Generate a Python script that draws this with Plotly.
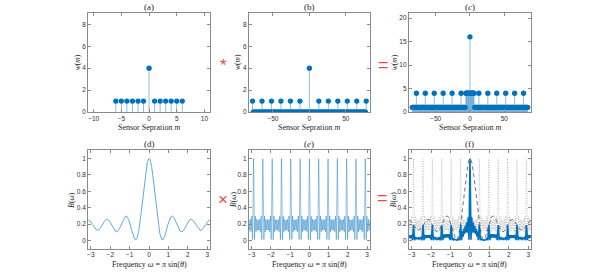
import numpy as np
import plotly.graph_objects as go

# ---------------- data ----------------
# (a) sensor-separation weights of the small array
m_a = list(range(-6, 7))
w_a = [1, 1, 1, 1, 1, 1, 4, 1, 1, 1, 1, 1, 1]
# (b) same weights placed every 13 sensors (zeros in between)
spacing_b = 13
m_b = list(range(-78, 79))
w_b = [w_a[m // spacing_b + 6] if m % spacing_b == 0 else 0 for m in m_b]
# (c) result of (a) * (b)
m_c = list(range(-84, 85))
w_c = [int(v) for v in np.convolve(w_a, w_b)]

x_ticks_a = [-10, -5, 0, 5, 10]
x_ticks_bc = [-50, 0, 50]
y_ticks_ab = [0, 2, 4, 6, 8]
y_ticks_c = [0, 5, 10, 15, 20]
x_ticks_freq = [-3, -2, -1, 0, 1, 2, 3]
y_ticks_freq = [0, 0.2, 0.4, 0.6, 0.8, 1]
y_ticklabels_freq = ["0", "0.2", "0.4", "0.6", "0.8", "1"]

omega = np.linspace(-np.pi, np.pi, 1201)


def beampattern(m, w):
    m = np.asarray(m, float)
    w = np.asarray(w, float)
    s = np.exp(-1j * np.outer(omega, m)) @ w
    return np.abs(s) / w.sum()


B_a = beampattern(m_a, w_a)
B_b = beampattern(m_b, w_b)
B_c = beampattern(m_c, w_c)

# ---------------- figure ----------------
W, H = 598, 275
BLUE = "#0072BD"
STEM = "rgba(0,114,189,0.45)"
AXC = "#8a8a8a"
TXT = "#303030"
SERIF = "Liberation Serif"
SANS = "Liberation Sans"

xdoms = [(87.3 / W, 209.3 / W), (248.3 / W, 369.5 / W), (408.5 / W, 531 / W)]
ydoms = [(1 - 113.3 / H, 1 - 13.5 / H), (1 - 251.3 / H, 1 - 152 / H)]

fig = go.Figure()


def stem_traces(m, w, ax):
    xs, ys = [], []
    for mm, ww in zip(m, w):
        if ww != 0:
            xs += [mm, mm, None]
            ys += [0, ww, None]
    fig.add_trace(go.Scatter(x=xs, y=ys, mode="lines", line=dict(color=STEM, width=1),
                             xaxis="x" + ax, yaxis="y" + ax, showlegend=False, hoverinfo="skip"))
    fig.add_trace(go.Scatter(x=m, y=w, mode="markers",
                             marker=dict(color=BLUE, size=5.3, line=dict(width=0)),
                             xaxis="x" + ax, yaxis="y" + ax, showlegend=False))


stem_traces(m_a, w_a, "")
stem_traces(m_b, w_b, "2")
stem_traces(m_c, w_c, "3")

fig.add_trace(go.Scatter(x=omega, y=B_a, mode="lines", line=dict(color="#4d9fdc", width=0.9),
                         xaxis="x4", yaxis="y4", showlegend=False))
fig.add_trace(go.Scatter(x=omega, y=B_b, mode="lines", line=dict(color="rgba(0,114,189,0.6)", width=0.7),
                         xaxis="x5", yaxis="y5", showlegend=False))
fig.add_trace(go.Scatter(x=omega, y=B_b, mode="lines", line=dict(color="rgba(80,80,80,0.5)", width=0.6, dash="1px,1.5px"),
                         xaxis="x6", yaxis="y6", showlegend=False))
fig.add_trace(go.Scatter(x=omega, y=B_a, mode="lines", line=dict(color="rgba(40,40,40,0.8)", width=0.8, dash="4px,3px"),
                         xaxis="x6", yaxis="y6", showlegend=False))
fig.add_trace(go.Scatter(x=omega, y=B_c, mode="lines", line=dict(color=BLUE, width=1.6),
                         xaxis="x6", yaxis="y6", showlegend=False))


def axis(dom, rng, tickvals, anchor, ticktext=None):
    d = dict(domain=dom, range=rng, tickvals=tickvals, anchor=anchor,
             showline=True, linecolor=AXC, linewidth=1, mirror="allticks",
             ticks="inside", ticklen=3, tickcolor=AXC, tickwidth=1,
             showgrid=False, zeroline=False,
             tickfont=dict(family=SANS, size=6.5, color=TXT))
    if ticktext is not None:
        d["ticktext"] = ticktext
    return d


pi = np.pi
fig.update_layout(
    width=W, height=H, margin=dict(l=0, r=0, t=0, b=0),
    paper_bgcolor="white", plot_bgcolor="white",
    xaxis=axis(xdoms[0], [-11, 11], x_ticks_a, "y"),
    yaxis=axis(ydoms[0], [0, 9], y_ticks_ab, "x"),
    xaxis2=axis(xdoms[1], [-83, 83], x_ticks_bc, "y2"),
    yaxis2=axis(ydoms[0], [0, 9], y_ticks_ab, "x2"),
    xaxis3=axis(xdoms[2], [-89, 89], x_ticks_bc, "y3"),
    yaxis3=axis(ydoms[0], [0, 21], y_ticks_c, "x3"),
    xaxis4=axis(xdoms[0], [-pi, pi], x_ticks_freq, "y4"),
    yaxis4=axis(ydoms[1], [-0.1, 1.1], y_ticks_freq, "x4", y_ticklabels_freq),
    xaxis5=axis(xdoms[1], [-pi, pi], x_ticks_freq, "y5"),
    yaxis5=axis(ydoms[1], [-0.1, 1.1], y_ticks_freq, "x5", y_ticklabels_freq),
    xaxis6=axis(xdoms[2], [-pi, pi], x_ticks_freq, "y6"),
    yaxis6=axis(ydoms[1], [-0.1, 1.1], y_ticks_freq, "x6", y_ticklabels_freq),
)

ann = []


def text(x, y, s, size, angle=0, color="#262626", family=SERIF):
    ann.append(dict(x=x / W, y=1 - y / H, xref="paper", yref="paper", text=s, showarrow=False,
                    textangle=angle, font=dict(family=family, size=size, color=color),
                    xanchor="center", yanchor="middle"))


titles = ["(a)", "(b)", "(<i>c</i>)", "(d)", "(<i>e</i>)", "(f)"]
cx = [(a + b) / 2 * W for a, b in xdoms]
for i, t in enumerate(titles):
    text(cx[i % 3], 7 if i < 3 else 145.5, t, 9)
for i in range(3):
    text(cx[i], 128.5, "Sensor Sepration <i>m</i>", 8)
    text(cx[i], 267, "Frequency <i>ω</i> = <i>π</i> sin(<i>θ</i>)", 8)
ylx = [76, 237, 393.5]
ylx2 = [71, 233.5, 393]
for i in range(3):
    text(ylx[i], 63, "<i>w</i>(<i>m</i>)", 7.5, angle=-90)
    text(ylx2[i], 202, "<i>B</i>(<i>ω</i>)", 7.5, angle=-90)

RED = "#f04848"
text(223, 66, "*", 17, color=RED, family="Liberation Sans")
text(383, 66, "=", 18, color=RED, family="Liberation Sans")
text(222, 202, "×", 17, color=RED, family="Liberation Sans")
text(382, 200, "=", 18, color=RED, family="Liberation Sans")

fig.update_layout(annotations=ann)
fig.write_html("out.html", config={"displayModeBar": False, "staticPlot": True})

# remove the browser's default page margin so the figure sits at (0, 0)
with open("out.html", "r", encoding="utf-8") as f:
    html = f.read()
html = html.replace("<head>", "<head><style>html,body{margin:0;padding:0;overflow:hidden;}</style>", 1)
with open("out.html", "w", encoding="utf-8") as f:
    f.write(html)
